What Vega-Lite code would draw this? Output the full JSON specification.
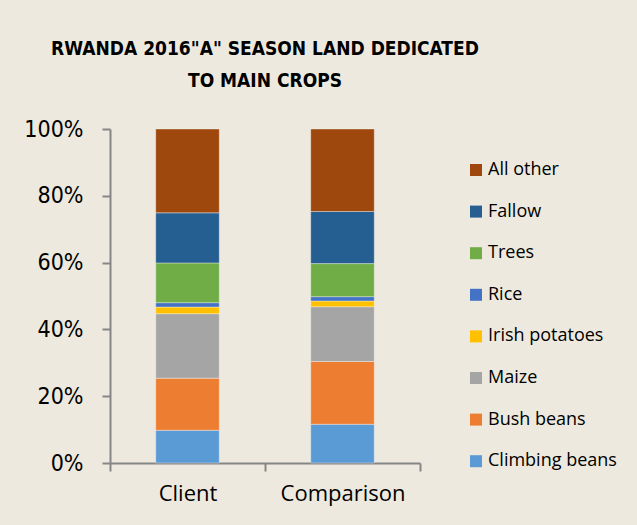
{
  "$schema": "https://vega.github.io/schema/vega-lite/v6.json",
  "autosize": "none",
  "width": 310,
  "height": 334,
  "padding": {"left": 110, "top": 129, "right": 217, "bottom": 62},
  "background": "#EDE9DE",
  "title": {
    "text": ["RWANDA 2016\"A\"  SEASON LAND DEDICATED", "TO MAIN CROPS"],
    "font": "DejaVu Sans Condensed, sans-serif",
    "fontSize": 19,
    "fontWeight": "bold",
    "color": "#000000",
    "anchor": "middle",
    "frame": "group",
    "lineHeight": 32,
    "offset": 27
  },
  "data": {
    "values": [
      {"group": "Client", "crop": "Climbing beans", "rank": 1, "share": 0.098},
      {"group": "Client", "crop": "Bush beans", "rank": 2, "share": 0.156},
      {"group": "Client", "crop": "Maize", "rank": 3, "share": 0.193},
      {"group": "Client", "crop": "Irish potatoes", "rank": 4, "share": 0.020},
      {"group": "Client", "crop": "Rice", "rank": 5, "share": 0.013},
      {"group": "Client", "crop": "Trees", "rank": 6, "share": 0.119},
      {"group": "Client", "crop": "Fallow", "rank": 7, "share": 0.150},
      {"group": "Client", "crop": "All other", "rank": 8, "share": 0.251},
      {"group": "Comparison", "crop": "Climbing beans", "rank": 1, "share": 0.116},
      {"group": "Comparison", "crop": "Bush beans", "rank": 2, "share": 0.188},
      {"group": "Comparison", "crop": "Maize", "rank": 3, "share": 0.164},
      {"group": "Comparison", "crop": "Irish potatoes", "rank": 4, "share": 0.017},
      {"group": "Comparison", "crop": "Rice", "rank": 5, "share": 0.013},
      {"group": "Comparison", "crop": "Trees", "rank": 6, "share": 0.099},
      {"group": "Comparison", "crop": "Fallow", "rank": 7, "share": 0.156},
      {"group": "Comparison", "crop": "All other", "rank": 8, "share": 0.247}
    ]
  },
  "mark": {"type": "bar", "width": {"band": 0.41}, "stroke": "#ffffff", "strokeWidth": 0.8, "strokeOpacity": 0.45},
  "encoding": {
    "x": {
      "field": "group",
      "type": "nominal",
      "title": null,
      "scale": {"paddingInner": 0, "paddingOuter": 0},
      "axis": {
        "labelAngle": 0,
        "labelFont": "Open Sans",
        "labelFontSize": 22,
        "labelColor": "#000000",
        "labelPadding": 12,
        "tickBand": "extent",
        "tickSize": 8,
        "tickColor": "#868686",
        "tickWidth": 2,
        "domainColor": "#868686",
        "domainWidth": 2,
        "grid": false
      }
    },
    "y": {
      "field": "share",
      "type": "quantitative",
      "stack": "zero",
      "title": null,
      "scale": {"domain": [0, 1]},
      "axis": {
        "format": ".0%",
        "values": [0, 0.2, 0.4, 0.6, 0.8, 1],
        "labelFont": "DejaVu Sans Condensed, sans-serif",
        "labelFontSize": 23,
        "labelColor": "#000000",
        "labelPadding": 19,
        "tickSize": 8,
        "tickColor": "#868686",
        "tickWidth": 2,
        "domainColor": "#868686",
        "domainWidth": 2,
        "grid": false
      }
    },
    "color": {
      "field": "crop",
      "type": "nominal",
      "scale": {
        "domain": ["All other", "Fallow", "Trees", "Rice", "Irish potatoes", "Maize", "Bush beans", "Climbing beans"],
        "range": ["#9E480E", "#255E91", "#70AD47", "#4472C4", "#FFC000", "#A5A5A5", "#ED7D31", "#5B9BD5"]
      },
      "legend": {
        "title": null,
        "orient": "right",
        "offset": 15,
        "padding": 32,
        "symbolType": "square",
        "symbolSize": 144,
        "symbolStrokeWidth": 0,
        "labelFont": "Open Sans",
        "labelFontSize": 18,
        "labelColor": "#000000",
        "labelOffset": 3,
        "rowPadding": 23.6,
        "labelLimit": 200
      }
    },
    "order": {"field": "rank", "type": "quantitative", "sort": "ascending"}
  },
  "config": {"view": {"stroke": null}}
}
